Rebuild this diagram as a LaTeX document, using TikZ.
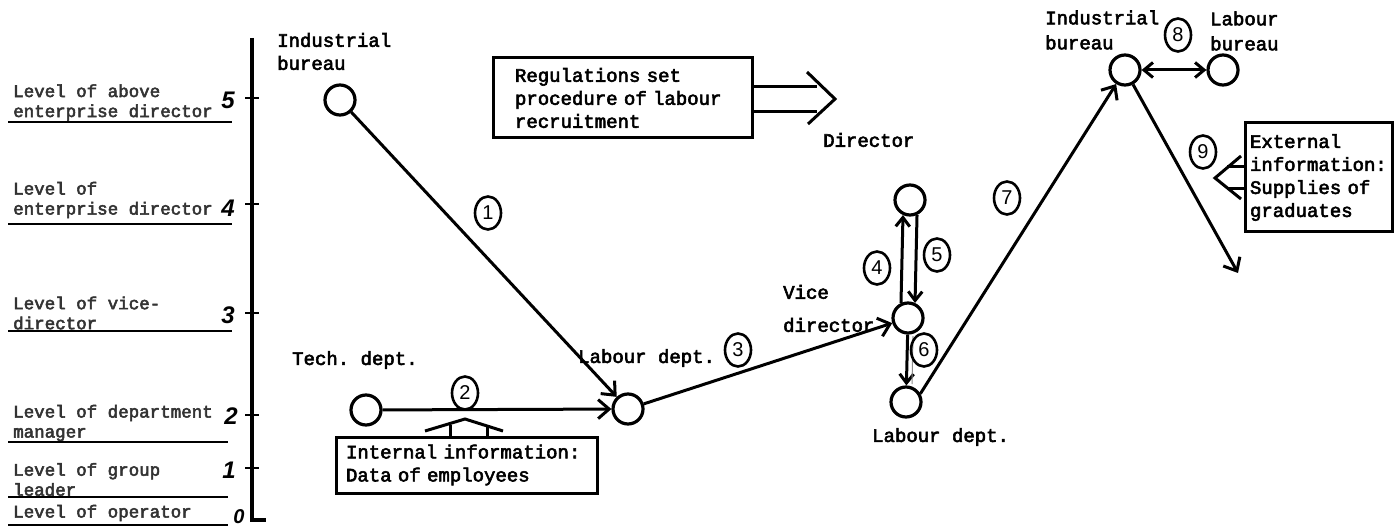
\documentclass[tikz,border=0pt]{standalone}
\usepackage{fontspec}
\setmonofont{Liberation Mono}[FakeBold=3]
\setsansfont{Liberation Sans}
\usetikzlibrary{arrows.meta,shapes.geometric}

\begin{document}
\begin{tikzpicture}[x=1pt,y=-1pt,
  pt/.style={circle,draw,line width=3.2pt,minimum size=30pt,inner sep=0pt},
  lbl/.style={font=\ttfamily\fontsize{19}{23}\selectfont,inner sep=0pt,align=left,anchor=west},
  lvl/.style={font=\ttfamily\fontsize{17.5}{20}\selectfont,inner sep=0pt,align=left,anchor=west,text=black!80},
  tnum/.style={font=\sffamily\bfseries\itshape\fontsize{24}{24}\selectfont,inner sep=0pt},
  cnum/.style={ellipse,draw,line width=2.6pt,inner sep=0pt,minimum width=26pt,minimum height=33pt,font=\sffamily\fontsize{20}{20}\selectfont},
  flow/.style={line width=3pt,-{Straight Barb[length=11pt,width=19pt,line width=3pt]}},
  flowsm/.style={line width=3pt,-{Straight Barb[length=9pt,width=14pt,line width=3pt]}},
  infobox/.style={draw,line width=3pt,font=\ttfamily\fontsize{19}{23}\selectfont,align=left},
  rule/.style={line width=2.2pt},
  hollow/.style={line width=3pt,line join=miter}
]
\useasboundingbox (0,0) rectangle (1396,529);

% ---- level axis ----
\draw[line width=3.2pt] (252,38) -- (252,520) -- (266,520);
\foreach \yy in {98,204,313,415,468}
  \draw[line width=2.8pt] (245,\yy) -- (259,\yy);
\node[tnum] (n5) at (228,100) {5};
\node[tnum] (n4) at (228,208) {4};
\node[tnum] (n3) at (228,315) {3};
\node[tnum] (n2) at (231,416) {2};
\node[tnum] (n1) at (229,470) {1};
\node[tnum,font=\sffamily\bfseries\itshape\fontsize{20}{20}\selectfont] (n0) at (239,517) {0};

% ---- level names ----
\node[lvl] (l5) at (13,102.5) {Level of above\\enterprise director};
\node[lvl] (l4) at (13,200) {Level of\\enterprise director};
\node[lvl] (l3) at (13,313) {Level of vice-\\director};
\node[lvl] (l2) at (13,423) {Level of department\\manager};
\node[lvl] (l1) at (13,479.5) {Level of group\\leader};
\node[lvl] (l0) at (13,513) {Level of operator};
\draw[rule] (8,122) -- (232,122);
\draw[rule] (8,224) -- (232,224);
\draw[rule] (8,331) -- (232,331);
\draw[rule] (8,442) -- (228,442);
\draw[rule] (8,497) -- (228,497);
\draw[rule] (8,525) -- (228,525);

% ---- actors ----
\node[pt] (ib1)  at (340,100) {};
\node[pt] (tech) at (366,410) {};
\node[pt] (lab1) at (628,409) {};
\node[pt] (vice) at (908,318) {};
\node[pt] (dir)  at (910,200) {};
\node[pt] (lab2) at (906,402) {};
\node[pt] (ib2)  at (1125,70) {};
\node[pt] (lbur) at (1223,70) {};
\coordinate (out9) at (1238,273);

\node[lbl] (tib1)  at (277,51.5) {Industrial\\bureau};
\node[lbl] (ttech) at (292,360) {Tech. dept.};
\node[lbl] (tlab1) at (578,358) {Labour dept.};
\node[lbl] (tvice) at (783,308.5) {Vice\\[10pt]director};
\node[lbl] (tdir)  at (823,140) {Director};
\node[lbl] (tlab2) at (872,437) {Labour dept.};
\node[lbl] (tib2)  at (1045,30) {Industrial\\[2pt]bureau};
\node[lbl] (tlbur) at (1210,31) {Labour\\[2pt]bureau};

% ---- information boxes ----
\node[infobox,minimum width=259pt,minimum height=80pt,text width=215pt,inner xsep=22pt]
  (reg) at (622.5,98) {Regulations set\\procedure of labour\\recruitment};
\node[infobox,minimum width=261pt,minimum height=56pt,text width=241pt,inner xsep=10pt]
  (intl) at (466.5,465) {Internal information:\\Data of employees};
\node[infobox,minimum width=147pt,minimum height=109pt,text width=137pt,inner xsep=5pt]
  (extl) at (1318.5,177.5) {External\\information:\\Supplies of\\graduates};

% hollow arrow out of the regulations box
\draw[hollow] (752,87) -- (817,87);
\draw[hollow] (752,112) -- (817,112);
\draw[hollow] (807,72) -- (835,99) -- (808,124);
% hollow arrow up from the internal information box
\draw[hollow] (450,437) -- (450,425);
\draw[hollow] (487,437) -- (487,425);
\draw[hollow] (425,431) -- (465,419) -- (503,431);
% hollow arrow out of the external information box
\draw[hollow] (1245,167) -- (1227,167);
\draw[hollow] (1245,189) -- (1227,189);
\draw[hollow] (1241,156) -- (1215,178) -- (1241,199);

% ---- flows ----
\draw[flow] (ib1) -- (lab1);
\draw[flow] (tech) -- (lab1);
\draw[flow] (lab1) -- (vice);
\draw[flowsm] (vice.115) -- (dir.245);
\draw[flowsm] (dir.295) -- (vice.65);
\draw[flowsm] (vice) -- (lab2);
\draw[black!45,line width=1pt] (913,336) -- (912,384);
\draw[flow] (lab2.30) -- (ib2);
\draw[line width=3pt,{Straight Barb[length=9pt,width=15pt,line width=3pt]}-{Straight Barb[length=9pt,width=15pt,line width=3pt]}] (ib2) -- (lbur);
\draw[flow] (ib2) -- (out9);

% ---- step numbers ----
\node[cnum] (s1) at (488,213) {1};
\node[cnum] (s2) at (465,393) {2};
\node[cnum] (s3) at (738,350) {3};
\node[cnum] (s4) at (877,268) {4};
\node[cnum] (s5) at (937,255) {5};
\node[cnum] (s6) at (924,350) {6};
\node[cnum] (s7) at (1007,198) {7};
\node[cnum] (s8) at (1178,35) {8};
\node[cnum] (s9) at (1203,152) {9};
\end{tikzpicture}
\end{document}
